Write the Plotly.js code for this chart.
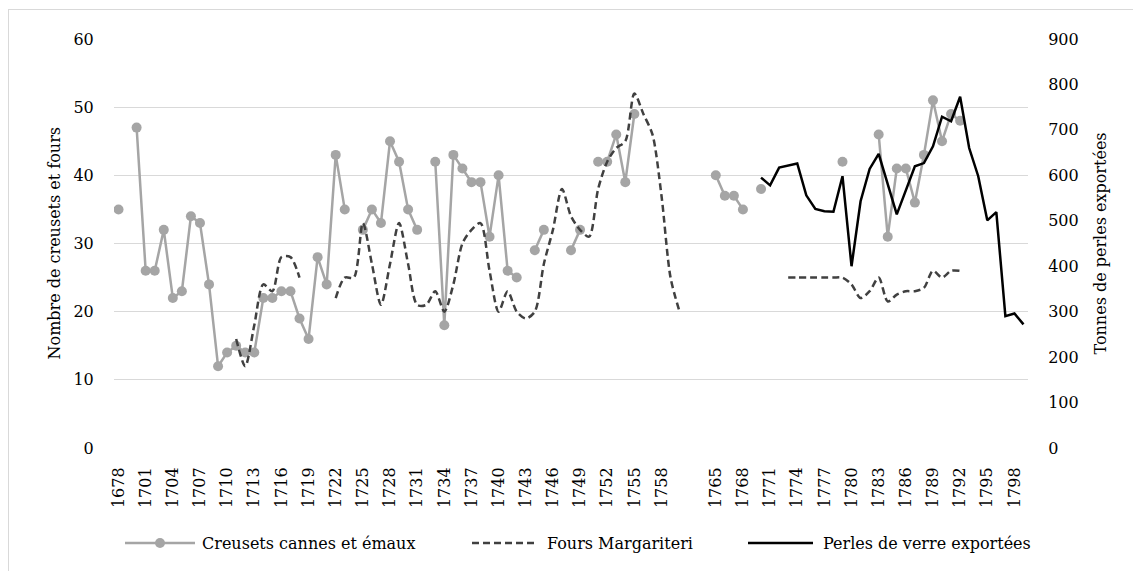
<!DOCTYPE html>
<html>
<head>
<meta charset="utf-8">
<script src="https://cdn.plot.ly/plotly-3.0.1.min.js"></script>
<style>
  html, body { margin: 0; padding: 0; background: #ffffff; }
  #wrap { position: relative; width: 1133px; height: 571px; overflow: hidden; }
  #frame { position: absolute; left: 8px; top: 9px; width: 1140px; height: 600px; border: 1px solid #d9d9d9; box-sizing: border-box; pointer-events: none; }
  #chart { position: absolute; left: 0; top: 0; width: 1133px; height: 571px; }
</style>
</head>
<body>
<div id="wrap">
  <div id="chart"></div>
  <div id="frame"></div>
</div>
<script>
// Categories (one per position on the category axis), rows of 10
const years = [
  '1678','1699','1700','1701','1702','1703','1704','1705','1706','1707',
  '1708','1709','1710','1711','1712','1713','1714','1715','1716','1717',
  '1718','1719','1720','1721','1722','1723','1724','1725','1726','1727',
  '1728','1729','1730','1731','1732','1733','1734','1735','1736','1737',
  '1738','1739','1740','1741','1742','1743','1744','1745','1746','1747',
  '1748','1749','1750','1751','1752','1753','1754','1755','1756','1757',
  '1758','1759','1760','1761','1763','1764','1765','1766','1767','1768',
  '1769','1770','1771','1772','1773','1774','1775','1776','1777','1778',
  '1779','1780','1781','1782','1783','1784','1785','1786','1787','1788',
  '1789','1790','1791','1792','1793','1794','1795','1796','1797','1798',
  '1799'
];

// Tick labels shown on the axis
const tickLabels = [
  '1678','1701','1704','1707','1710','1713','1716','1719','1722','1725',
  '1728','1731','1734','1737','1740','1743','1746','1749','1752','1755',
  '1758','1765','1768','1771','1774','1777','1780','1783','1786','1789',
  '1792','1795','1798'
];

// Series names
const seriesNames = ['Creusets cannes et émaux', 'Fours Margariteri', 'Perles de verre exportées'];

// Creusets cannes et émaux (left axis), rows of 10 aligned with years
const creusets = [
  35, null, 47, 26, 26, 32, 22, 23, 34, 33,
  24, 12, 14, 15, 14, 14, 22, 22, 23, 23,
  19, 16, 28, 24, 43, 35, null, 32, 35, 33,
  45, 42, 35, 32, null, 42, 18, 43, 41, 39,
  39, 31, 40, 26, 25, null, 29, 32, null, null,
  29, 32, null, 42, 42, 46, 39, 49, null, null,
  null, null, null, null, null, null, 40, 37, 37, 35,
  null, 38, null, null, null, null, null, null, null, null,
  42, null, null, null, 46, 31, 41, 41, 36, 43,
  51, 45, 49, 48, null, null, null, null, null, null,
  null
];

// Fours Margariteri (left axis)
const fours = [
  null, null, null, null, null, null, null, null, null, null,
  null, null, null, 16, 12, 18, 24, 23, 28, 28,
  25, null, null, null, 22, 25, 25, 33, 27, 21,
  27, 33, 27, 21, 21, 23, 20, 24, 30, 32,
  33, 26, 20, 23, 20, 19, 20, 27, 32, 38,
  34, 32, 31, 38, 42, 44, 45, 52, 49, 46,
  37, 25, 20, null, null, null, null, null, null, null,
  null, null, null, null, 25, 25, 25, 25, 25, 25,
  25, 24, 22, 23, 25, 21.5, 22.5, 23, 23, 23.5,
  26, 25, 26, 26, null, null, null, null, null, null,
  null
];

// Perles de verre exportées (right axis, tonnes)
const perles = [
  null, null, null, null, null, null, null, null, null, null,
  null, null, null, null, null, null, null, null, null, null,
  null, null, null, null, null, null, null, null, null, null,
  null, null, null, null, null, null, null, null, null, null,
  null, null, null, null, null, null, null, null, null, null,
  null, null, null, null, null, null, null, null, null, null,
  null, null, null, null, null, null, null, null, null, null,
  null, 595, 578, 617, 621, 626, 556, 526, 521, 520,
  598, 400, 543, 614, 647, 580, 514, 567, 620, 627,
  664, 729, 719, 773, 660, 598, 501, 519, 290, 296,
  272
];

const FONT = 'DejaVu Serif';
const FS = 16;

const STYLE = {
  creusets: {color: '#a5a5a5', width: 2.5},
  fours: {color: '#404040', width: 2.5, dash: '7px,4px'},
  perles: {color: '#000000', width: 2.5}
};

const traces = [
  {
    x: years, y: creusets, name: seriesNames[0],
    type: 'scatter', mode: 'lines+markers',
    line: {color: STYLE.creusets.color, width: STYLE.creusets.width},
    marker: {color: STYLE.creusets.color, size: 10},
    connectgaps: false, yaxis: 'y'
  },
  {
    x: years, y: fours, name: seriesNames[1],
    type: 'scatter', mode: 'lines',
    line: {color: STYLE.fours.color, width: STYLE.fours.width, dash: STYLE.fours.dash, shape: 'spline', smoothing: 0.8},
    connectgaps: false, yaxis: 'y'
  },
  {
    x: years, y: perles, name: seriesNames[2],
    type: 'scatter', mode: 'lines',
    line: {color: STYLE.perles.color, width: STYLE.perles.width},
    connectgaps: false, yaxis: 'y2'
  }
];

const M = {l: 114, r: 105, t: 39, b: 123};
const PW = 1133 - M.l - M.r, PH = 571 - M.t - M.b;
const px = v => (v - M.l) / PW;
const py = v => (571 - M.b - v) / PH;

const LEG_Y = 543;
const legendItems = [
  {line: [125, 195], text: 202, marker: 160, style: STYLE.creusets},
  {line: [472, 535], text: 547, style: STYLE.fours},
  {line: [748, 813], text: 823, style: STYLE.perles}
];

const shapes = [];
const annotations = [
  {
    text: 'Nombre de creusets et fours', xref: 'paper', yref: 'paper',
    x: px(54), y: 0.5, xanchor: 'center', yanchor: 'middle',
    textangle: -90, showarrow: false,
    font: {family: FONT, size: FS, color: '#000000'}
  },
  {
    text: 'Tonnes de perles exportées', xref: 'paper', yref: 'paper',
    x: px(1100), y: 0.5, xanchor: 'center', yanchor: 'middle',
    textangle: -90, showarrow: false,
    font: {family: FONT, size: FS, color: '#000000'}
  }
];
legendItems.forEach((it, i) => {
  shapes.push({
    type: 'line', xref: 'paper', yref: 'paper',
    x0: px(it.line[0]), x1: px(it.line[1]), y0: py(LEG_Y), y1: py(LEG_Y),
    line: {color: it.style.color, width: it.style.width, dash: it.style.dash || 'solid'}
  });
  if (it.marker) {
    shapes.push({
      type: 'circle', xref: 'paper', yref: 'paper',
      x0: px(it.marker - 5), x1: px(it.marker + 5), y0: py(LEG_Y + 5), y1: py(LEG_Y - 5),
      fillcolor: it.style.color, line: {width: 0}
    });
  }
  annotations.push({
    text: seriesNames[i], xref: 'paper', yref: 'paper',
    x: px(it.text), y: py(LEG_Y), xanchor: 'left', yanchor: 'middle',
    showarrow: false, xshift: -2,
    font: {family: FONT, size: FS, color: '#000000'}
  });
});

const layout = {
  width: 1133, height: 571,
  margin: M,
  paper_bgcolor: 'rgba(0,0,0,0)', plot_bgcolor: 'rgba(0,0,0,0)',
  font: {family: FONT, size: FS, color: '#000000'},
  showlegend: false,
  xaxis: {
    type: 'category', categoryorder: 'array', categoryarray: years,
    range: [-0.5, years.length - 0.5],
    tickmode: 'array', tickvals: tickLabels, ticktext: tickLabels,
    tickangle: -90, ticks: 'outside', ticklen: 12, tickcolor: 'rgba(0,0,0,0)',
    showgrid: false, zeroline: false, showline: false,
    tickfont: {family: FONT, size: FS, color: '#000000'}
  },
  yaxis: {
    range: [0, 60], dtick: 10, tick0: 0,
    showgrid: true, gridcolor: '#d9d9d9', gridwidth: 1.3,
    zeroline: false, showline: false,
    ticks: 'outside', ticklen: 16, tickcolor: 'rgba(0,0,0,0)',
    tickfont: {family: FONT, size: FS, color: '#000000'}
  },
  yaxis2: {
    overlaying: 'y', side: 'right',
    range: [0, 900], dtick: 100, tick0: 0,
    showgrid: false, zeroline: false, showline: false,
    ticks: 'outside', ticklen: 16, tickcolor: 'rgba(0,0,0,0)',
    tickfont: {family: FONT, size: FS, color: '#000000'}
  },
  shapes: shapes,
  annotations: annotations
};

Plotly.newPlot('chart', traces, layout, {displayModeBar: false, staticPlot: true});
</script>
</body>
</html>
